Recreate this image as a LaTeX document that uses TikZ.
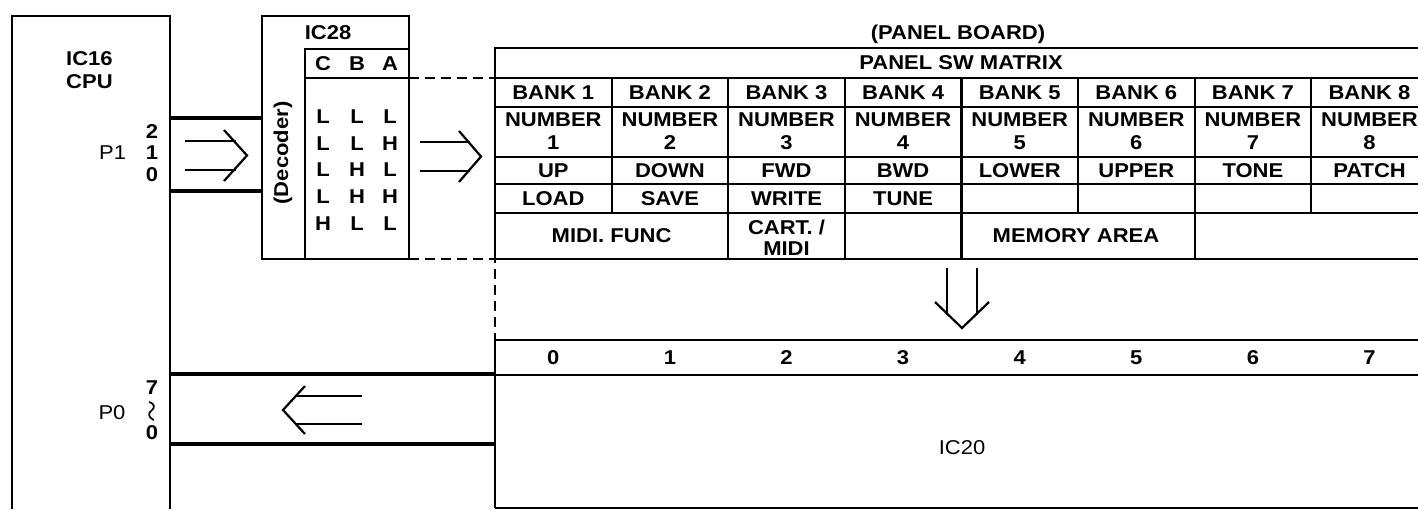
\documentclass[tikz,border=0pt]{standalone}
\usepackage{fontspec}
\setmainfont{Liberation Sans}[FakeStretch=1.1]
\begin{document}
\begin{tikzpicture}[x=1pt,y=-1pt,
  ln/.style={line width=2.2pt},
  bus/.style={line width=3.2pt},
  dsh/.style={line width=2.4pt, dash pattern=on 10pt off 6pt},
  arr/.style={line width=2.2pt, line join=miter},
  wave/.style={line width=1.7pt, line cap=round},
  lbl/.style={font=\fontsize{20}{22}\selectfont\bfseries, inner sep=0pt},
  lblr/.style={font=\fontsize{20}{22}\selectfont, inner sep=0pt}]
\useasboundingbox (0,0) rectangle (1418,509);
\clip (0,0) rectangle (1418,509);
\fill[white] (0,0) rectangle (1418,509);

% ---------------- CPU ----------------
\draw[ln] (12,509) -- (12,16) -- (170,16) -- (170,509);
\node[lbl, anchor=west] (ic16) at (66,58.5) {IC16};
\node[lbl, anchor=west] (cpu) at (66,82) {CPU};
\node[lblr, anchor=west] (p1) at (99,153) {P1};
\node[lbl] (p1b2) at (152,132) {2};
\node[lbl] (p1b1) at (152,153) {1};
\node[lbl] (p1b0) at (152,175) {0};
\node[lblr] (p0) at (112,413) {P0};
\node[lbl] (p0b7) at (152,388) {7};
\draw[wave] (149.5,402) .. controls (155,404) and (155,408) .. (151.5,410.5)
            .. controls (148,413) and (148,417) .. (153.5,420);
\node[lbl] (p0b0) at (152,433) {0};

% ---------------- IC28 ----------------
\draw[ln] (262,16) rectangle (409,259);
\draw[ln] (305,259) -- (305,49) -- (409,49);
\draw[ln] (305,78) -- (409,78);
\node[lbl] (ic28) at (328,33) {IC28};
\node[lbl] (hc) at (323,64) {C};
\node[lbl] (hb) at (357,64) {B};
\node[lbl] (ha) at (390,64) {A};
\foreach \c/\b/\a/\y [count=\r] in {L/L/L/117, L/L/H/144, L/H/L/170, L/H/H/197, H/L/L/224}{
  \node[lbl] (rc\r) at (323,\y) {\c};
  \node[lbl] (rb\r) at (357,\y) {\b};
  \node[lbl] (ra\r) at (390,\y) {\a};
}
\node[lbl, rotate=90] (dec) at (283,153) {(Decoder)};

% bus CPU -> IC28
\draw[bus] (170,118) -- (262,118);
\draw[bus] (170,191) -- (262,191);
\draw[arr, line width=2.8pt] (185,141) -- (236,141);
\draw[arr, line width=2.8pt] (185,170) -- (236,170);
\draw[arr] (224,130) -- (247,155.5) -- (224,181);

% arrow IC28 -> panel
\draw[arr] (420,142) -- (470,142);
\draw[arr] (420,171) -- (470,171);
\draw[arr] (459,131) -- (481,156.5) -- (459,182);

% dashed connection
\draw[dsh] (409,78) -- (495,78);
\draw[dsh] (409,259) -- (495,259) -- (495,340);

% ---------------- Panel board ----------------
\node[lbl] (pb) at (958,34) {(PANEL BOARD)};
\draw[ln] (495,259) -- (495,48) -- (1430,48);
\foreach \y in {78,107,157,184,213,259} \draw[ln] (495,\y) -- (1430,\y);
\foreach \i in {1,...,7} \draw[ln] ({495+116.6*\i},78) -- ({495+116.6*\i},213);
\foreach \i in {2,3,4,6} \draw[ln] ({495+116.6*\i},213) -- ({495+116.6*\i},259);
\node[lbl] (swm) at (961,63) {PANEL SW MATRIX};
\foreach \t [count=\i] in {BANK 1,BANK 2,BANK 3,BANK 4,BANK 5,BANK 6,BANK 7,BANK 8}
  \node[lbl] (bank\i) at ({495+116.6*(\i-0.5)},92.5) {\t};
\foreach \i in {1,...,8}{
  \node[lbl] (numa\i) at ({495+116.6*(\i-0.5)},120) {NUMBER};
  \node[lbl] (numb\i) at ({495+116.6*(\i-0.5)},143) {\i};
}
\foreach \t [count=\i] in {UP,DOWN,FWD,BWD,LOWER,UPPER,TONE,PATCH}
  \node[lbl] (fa\i) at ({495+116.6*(\i-0.5)},170.5) {\t};
\foreach \t [count=\i] in {LOAD,SAVE,WRITE,TUNE}
  \node[lbl] (fb\i) at ({495+116.6*(\i-0.5)},199) {\t};
\node[lbl] (midif) at (611.6,236) {MIDI. FUNC};
\node[lbl] (cart) at (786.5,227) {CART. /};
\node[lbl] (cartm) at (786.5,249) {MIDI};
\node[lbl] (mem) at (1076,236) {MEMORY AREA};

% arrow panel -> IC20
\draw[arr] (947,268) -- (947,315);
\draw[arr] (977,268) -- (977,315);
\draw[arr] (935,302) -- (962,328) -- (989,302);

% ---------------- IC20 ----------------
\draw[ln] (495,508) -- (495,340) -- (1430,340);
\draw[ln] (495,375) -- (1430,375);
\draw[ln] (495,508) -- (1430,508);
\foreach \i in {0,...,7}
  \node[lbl] (d\i) at ({495+116.6*(\i+0.5)},358) {\i};
\node[lblr] (ic20) at (962,448) {IC20};

% bus IC20 -> CPU
\draw[bus] (170,374) -- (495,374);
\draw[bus] (170,444) -- (495,444);
\draw[arr] (362,396) -- (296,396);
\draw[arr] (362,424) -- (296,424);
\draw[arr] (305,386) -- (283,410) -- (305,434);
\end{tikzpicture}
\end{document}
